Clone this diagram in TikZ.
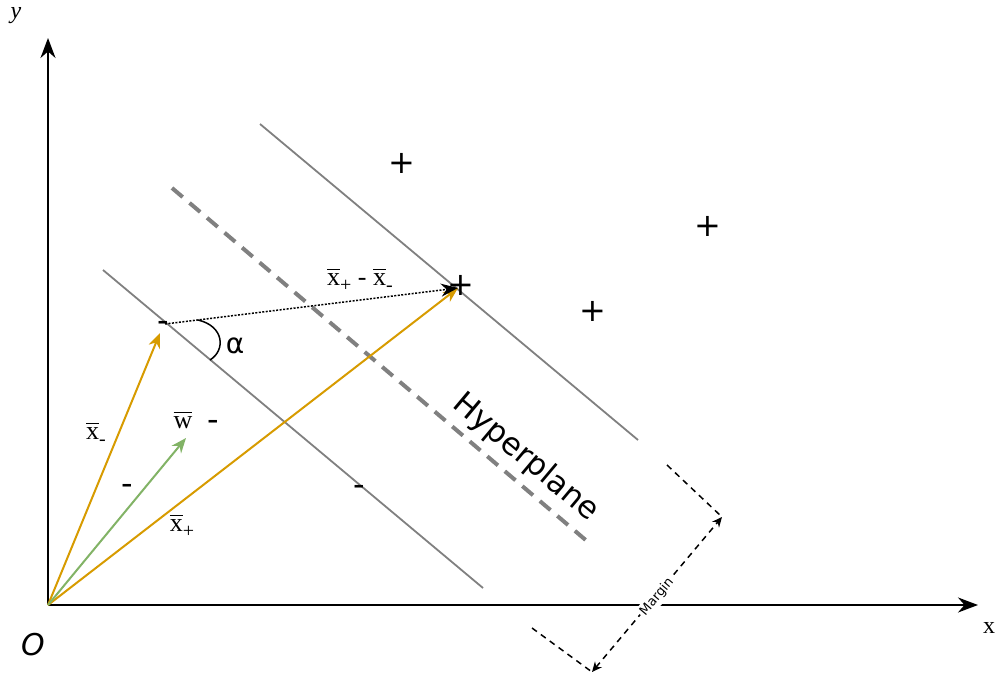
\documentclass[tikz,border=0pt]{standalone}
\usepackage{fontspec}
\setmainfont{DejaVu Sans}
\newfontfamily\lblfont{Liberation Serif}
\usetikzlibrary{arrows.meta,calc}
\definecolor{veccolor}{HTML}{D79B00}
\definecolor{wcolor}{HTML}{82B366}
\definecolor{planecolor}{HTML}{808080}
\newcommand{\fs}[1]{\fontsize{#1}{#1}\selectfont}
\newcommand{\ovl}[1]{\vbox{\hrule height 1.6pt\kern 3pt\hbox{#1}}}
\newcommand{\barx}[1]{\ovl{x}\raisebox{-6pt}{\fs{20}#1}}

\begin{document}
\begin{tikzpicture}[
    x=1pt,y=-1pt,
    axis/.style={-{Stealth[length=20pt,width=15pt]},line width=2pt},
    margline/.style={planecolor,line width=1.8pt},
    hplane/.style={planecolor,line width=4pt,dash pattern=on 14pt off 9pt},
    vec/.style={-{Stealth[length=15pt,width=12pt]},line width=2pt},
    diffarr/.style={-{Stealth[length=17pt,width=13pt]},line width=1.5pt,dash pattern=on 2pt off 1.5pt},
    mdash/.style={line width=1.5pt,dash pattern=on 6pt off 5pt},
    pt/.style={font=\fs{32},inner sep=0pt},
    lbl/.style={font=\lblfont\fs{26},inner sep=1pt},
  ]
    \useasboundingbox (0,0) rectangle (995,684);

    \coordinate (O) at (48,605);
    \coordinate (ytip) at (48,38);
    \coordinate (xtip) at (978,605);
    \draw[axis] (O) -- (ytip);
    \draw[axis] (O) -- (xtip);
    \node[lbl,font=\lblfont\itshape\fs{24}] (ylab) at (16,16) {y};
    \node[lbl,font=\lblfont\fs{24}] (xlab) at (989,628) {x};
    \node[lbl,font=\itshape\fs{30}] (olab) at (33,645) {O};

    \coordinate (m1a) at (103,270);
    \coordinate (m1b) at (483,588);
    \coordinate (h1) at (172,188);
    \coordinate (h2) at (588,542);
    \coordinate (m2a) at (260,124);
    \coordinate (m2b) at (638,440);
    \draw[margline] (m1a) -- (m1b);
    \draw[hplane] (h1) -- (h2);
    \draw[margline] (m2a) -- (m2b);
    \node[font=\fs{31},rotate=-40] (hlab) at (526,458) {Hyperplane};

    \node[pt] (xm) at (163,326) {-};
    \node[pt] (xp) at (461,285) {+};
    \node[pt] (p1) at (402,163) {+};
    \node[pt] (p2) at (708,226) {+};
    \node[pt] (p3) at (593,311) {+};
    \node[pt] (n1) at (213,425) {-};
    \node[pt] (n2) at (127,489) {-};
    \node[pt] (n3) at (359,490) {-};

    \coordinate (xmtip) at (160,333);
    \coordinate (xptip) at (458,288);
    \coordinate (wtip) at (186,438);
    \draw[vec,veccolor] (O) -- (xmtip);
    \draw[vec,veccolor] (O) -- (xptip);
    \draw[vec,wcolor] (O) -- (wtip);
    \node[lbl] (xmlab) at (96,434) {\barx{-}};
    \node[lbl] (wlab) at (183,420) {\ovl{w}};
    \node[lbl] (xplab) at (182,526) {\barx{+}};

    \coordinate (dstart) at (165,324);
    \coordinate (dend) at (458,288);
    \draw[diffarr] (dstart) -- (dend);
    \node[lbl] (difflab) at (360,280) {\barx{+}\ -\ \barx{-}};

    \coordinate (arcA) at (198,320);
    \coordinate (arcB) at (210,360);
    \draw[line width=1.5pt] (arcA) .. controls (224,326) and (226,350) .. (arcB);
    \node[font=\fs{28},inner sep=1pt] (alab) at (235,346) {α};

    \coordinate (mt1) at (667,465);
    \coordinate (mt2) at (722,517);
    \coordinate (mb1) at (532,628);
    \coordinate (mb2) at (592,672);
    \draw[mdash] (mt1) -- (mt2);
    \draw[mdash] (mb1) -- (mb2);
    \draw[mdash,{Stealth[length=10pt,width=9pt]}-{Stealth[length=10pt,width=9pt]}] (mb2) -- (mt2);
    \node[fill=white,font=\fs{13},rotate=50,inner sep=2pt] (mlab) at (657,597) {Margin};
\end{tikzpicture}
\end{document}
